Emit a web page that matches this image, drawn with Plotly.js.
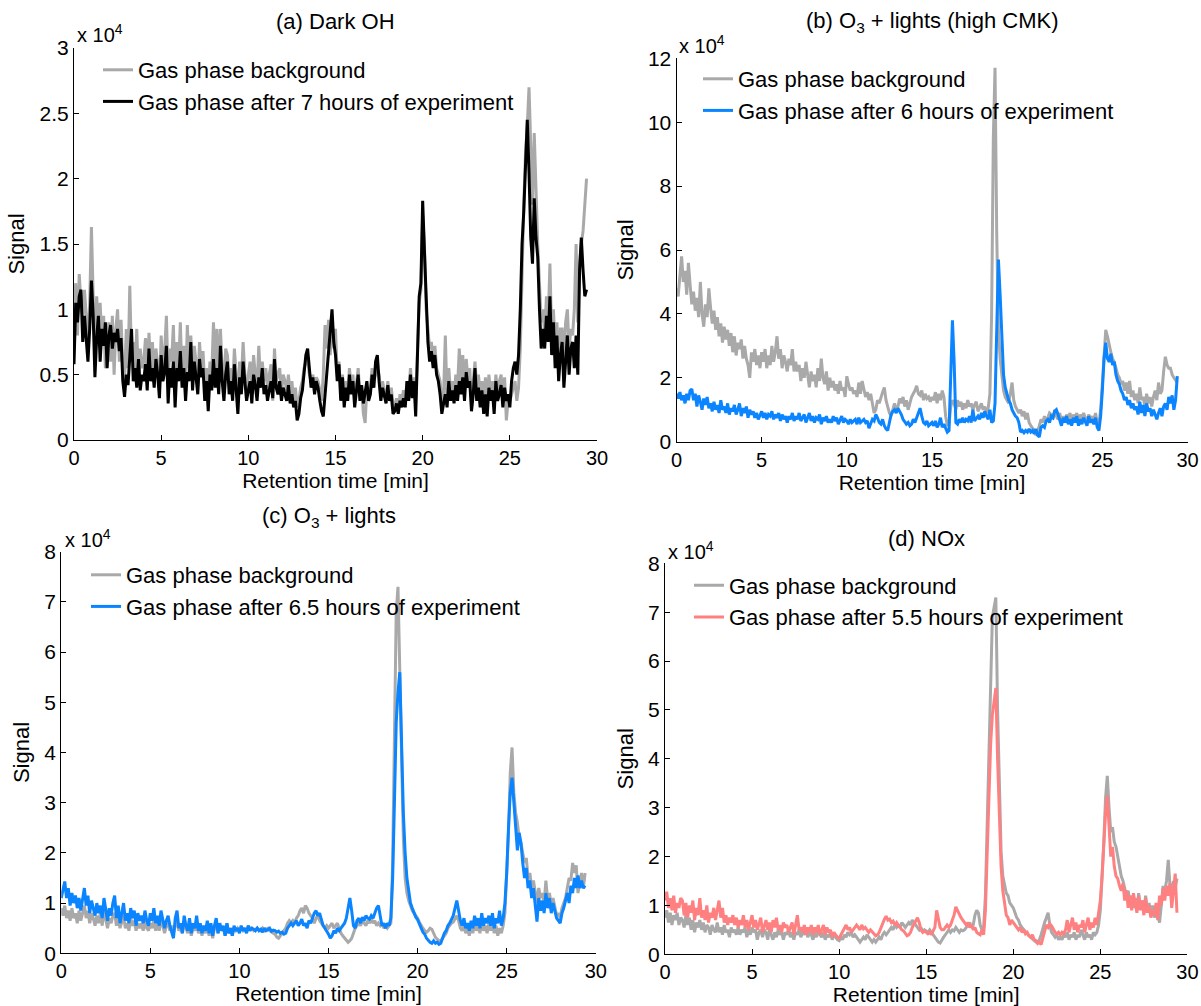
<!DOCTYPE html>
<html>
<head>
<meta charset="utf-8">
<script src="https://cdn.plot.ly/plotly-3.0.1.min.js"></script>
<style>html,body{margin:0;padding:0;background:#fff}#chart{width:1201px;height:1006px}</style>
</head>
<body>
<div id="chart"></div>
<script>
// Retention time grid: first sample and spacing [min]
const TIME_START = 0;
const TIME_STEP = 0.1;

// Signal values in units of 10^4
// (a) Dark OH
const darkBackground = [
1.0,1.2,0.8,1.27,1.05,0.95,1.15,0.9,0.75,1.05,
1.63,1.1,0.7,1.1,0.85,1.05,0.75,0.95,0.55,0.8,
0.9,0.6,0.95,0.5,0.85,1.0,0.6,0.92,0.55,0.45,
0.85,0.55,1.18,0.6,0.75,0.5,0.85,0.45,0.7,0.55,
0.6,0.78,0.5,0.82,0.55,0.75,0.45,0.7,0.58,0.4,
0.8,0.55,0.68,0.95,0.45,0.7,0.6,0.88,0.4,0.75,
0.55,0.9,0.45,0.72,0.35,0.88,0.55,0.8,0.5,0.72,
0.6,0.4,0.75,0.55,0.68,0.42,0.55,0.35,0.6,0.5,
0.9,0.55,0.85,0.45,0.85,0.55,0.38,0.7,0.65,0.45,
0.55,0.4,0.7,0.5,0.3,0.6,0.45,0.75,0.5,0.4,
0.5,0.6,0.35,0.65,0.5,0.4,0.72,0.45,0.6,0.45,
0.55,0.4,0.5,0.58,0.3,0.7,0.45,0.5,0.55,0.35,
0.5,0.45,0.38,0.5,0.35,0.45,0.3,0.4,0.25,0.3,
0.4,0.45,0.55,0.6,0.62,0.5,0.45,0.5,0.4,0.48,
0.45,0.38,0.3,0.5,0.88,0.7,0.92,0.65,0.95,0.7,
0.85,0.5,0.6,0.35,0.5,0.3,0.45,0.35,0.55,0.4,
0.5,0.3,0.45,0.55,0.35,0.4,0.2,0.13,0.4,0.35,
0.4,0.55,0.45,0.5,0.55,0.5,0.35,0.45,0.38,0.3,
0.45,0.35,0.4,0.28,0.25,0.32,0.22,0.35,0.3,0.38,
0.3,0.45,0.35,0.55,0.38,0.48,0.3,0.65,1.05,1.15,
1.72,1.5,1.0,0.85,0.7,0.75,0.6,0.72,0.55,0.5,
0.45,0.28,0.35,0.8,0.3,0.55,0.35,0.45,0.32,0.5,
0.4,0.7,0.45,0.65,0.4,0.62,0.45,0.55,0.3,0.45,
0.6,0.4,0.5,0.35,0.45,0.28,0.48,0.3,0.5,0.35,
0.45,0.3,0.5,0.35,0.45,0.5,0.3,0.48,0.15,0.3,
0.3,0.35,0.4,0.45,0.3,0.4,0.7,1.3,1.8,2.2,
2.4,2.7,2.3,1.8,2.35,1.9,1.5,1.2,0.9,1.0,
0.8,1.1,0.9,1.35,0.8,1.0,0.7,0.9,0.55,0.85,
0.85,0.6,0.9,1.0,0.7,0.85,0.8,1.0,1.5,0.9,
1.35,1.5,1.6,1.8,2.0];
const darkAfter7h = [
0.58,1.05,0.9,1.1,1.15,0.75,0.95,0.78,0.6,0.85,
1.22,0.95,0.48,0.78,0.95,0.6,0.85,0.72,0.9,0.55,
0.8,0.88,0.7,0.82,0.75,0.85,0.68,0.78,0.45,0.33,
0.5,0.42,0.6,0.85,0.45,0.55,0.4,0.62,0.38,0.5,
0.45,0.58,0.38,0.7,0.45,0.55,0.4,0.62,0.5,0.32,
0.65,0.45,0.52,0.72,0.28,0.55,0.4,0.6,0.25,0.55,
0.45,0.68,0.4,0.55,0.3,0.52,0.45,0.75,0.38,0.6,
0.48,0.35,0.62,0.48,0.55,0.3,0.45,0.22,0.5,0.38,
0.62,0.4,0.55,0.35,0.72,0.45,0.3,0.5,0.6,0.35,
0.45,0.3,0.58,0.4,0.2,0.48,0.35,0.6,0.42,0.3,
0.38,0.45,0.28,0.5,0.42,0.3,0.48,0.4,0.55,0.35,
0.42,0.3,0.38,0.45,0.32,0.62,0.4,0.35,0.45,0.3,
0.4,0.35,0.3,0.42,0.28,0.35,0.25,0.3,0.15,0.2,
0.32,0.38,0.5,0.65,0.7,0.55,0.4,0.48,0.35,0.45,
0.4,0.3,0.22,0.18,0.35,0.55,0.68,0.85,1.0,0.75,
0.65,0.45,0.58,0.3,0.48,0.25,0.4,0.3,0.5,0.35,
0.45,0.25,0.38,0.5,0.3,0.42,0.28,0.35,0.45,0.3,
0.35,0.5,0.4,0.6,0.65,0.45,0.3,0.4,0.35,0.28,
0.42,0.3,0.35,0.2,0.22,0.28,0.2,0.3,0.25,0.32,
0.25,0.45,0.3,0.5,0.32,0.45,0.18,0.6,1.1,1.2,
1.83,1.45,1.05,0.75,0.6,0.68,0.55,0.65,0.5,0.45,
0.35,0.2,0.28,0.35,0.25,0.45,0.3,0.38,0.28,0.42,
0.3,0.45,0.35,0.48,0.3,0.52,0.4,0.45,0.22,0.35,
0.55,0.3,0.4,0.25,0.38,0.2,0.35,0.18,0.4,0.3,
0.38,0.2,0.45,0.3,0.35,0.42,0.25,0.4,0.3,0.35,
0.25,0.45,0.55,0.6,0.5,0.65,1.0,1.5,1.75,2.1,
2.45,2.05,1.55,1.35,1.85,1.55,1.4,1.0,0.7,0.85,
0.7,0.95,0.75,1.1,0.65,0.9,0.55,0.8,0.45,0.65,
0.75,0.4,0.6,0.8,0.5,0.7,0.75,0.55,0.8,0.5,
1.3,1.55,1.3,1.1,1.15];

// (b) O3 + lights (high CMK)
const highCmkBackground = [
4.8,4.55,5.2,5.8,5.0,5.35,4.6,5.6,4.9,4.3,
4.7,4.1,4.5,3.9,5.0,4.0,3.6,4.3,3.9,4.8,
4.2,3.7,4.1,3.5,3.9,3.3,3.7,3.1,3.6,3.2,
3.5,3.0,3.4,2.8,3.3,2.7,3.1,2.9,3.2,2.6,
3.0,2.6,2.4,2.0,2.8,2.5,2.9,2.4,2.7,2.3,
2.8,2.5,2.9,2.3,2.7,2.4,3.0,2.5,2.8,3.3,
2.6,2.9,2.3,2.7,2.5,2.2,2.6,2.4,2.9,2.2,
2.5,2.2,2.4,1.9,2.3,2.0,2.5,2.1,1.7,2.2,
1.9,2.1,1.7,2.3,1.9,2.6,2.0,1.8,2.2,1.6,
2.0,1.7,1.9,1.6,1.8,1.5,1.9,1.6,1.7,1.4,
2.05,1.8,1.6,1.7,1.5,1.6,1.4,1.85,1.5,1.9,
1.6,1.4,1.55,1.3,1.5,1.2,0.9,1.0,1.3,1.2,
1.4,1.55,1.7,1.3,1.1,0.9,0.8,1.0,1.2,0.95,
1.1,1.35,1.2,1.4,1.1,1.3,1.0,1.2,1.4,1.5,
1.6,1.75,1.5,1.45,1.6,1.3,1.5,1.35,1.4,1.25,
1.4,1.3,1.55,1.2,1.5,1.3,1.6,1.4,0.8,0.5,
0.55,1.1,1.3,1.2,1.0,1.3,1.1,1.25,1.0,1.2,
1.05,1.3,1.1,1.2,1.0,1.15,1.25,0.95,1.1,1.2,
1.0,1.1,0.9,1.05,1.5,4.0,9.5,11.7,6.5,3.5,
2.6,2.0,1.6,1.4,1.3,1.2,1.5,1.85,1.3,1.1,
1.0,0.9,1.0,0.8,0.95,0.7,0.9,0.6,0.5,0.4,
0.35,0.2,0.3,0.5,0.7,0.6,0.8,0.65,0.75,0.9,
0.85,0.7,1.0,0.8,0.7,0.9,0.6,0.8,0.65,0.85,
0.7,0.9,0.65,0.85,0.7,0.9,0.6,0.85,0.7,0.9,
0.75,0.6,0.85,0.7,0.8,0.65,0.9,0.6,0.55,1.0,
1.8,2.7,3.5,3.3,3.0,2.8,2.6,2.5,2.3,2.1,
2.0,1.8,1.9,1.6,1.85,1.5,1.9,1.4,1.6,1.3,
1.5,1.2,1.7,1.3,1.4,1.1,1.5,1.2,1.4,1.1,
1.4,1.6,1.3,1.85,1.5,1.6,2.2,2.66,2.4,2.3,
2.3,2.1,2.0,1.9,1.85];
const highCmkAfter6h = [
1.5,1.35,1.55,1.3,1.45,1.2,1.5,1.3,1.6,1.65,
1.3,1.5,1.1,1.45,1.25,1.0,1.35,1.15,1.4,1.05,
1.2,0.95,1.25,1.0,1.15,0.9,1.3,1.0,1.1,0.9,
1.2,0.85,1.05,0.95,1.15,0.85,1.0,1.2,0.8,1.05,
0.9,1.1,0.75,1.0,0.85,0.95,0.75,0.9,0.7,0.85,
0.95,0.75,0.9,0.7,0.85,0.8,0.95,0.7,0.85,0.75,
0.9,0.65,0.85,0.7,0.8,0.6,0.8,0.7,0.9,0.65,
0.8,0.7,0.9,0.65,0.75,0.85,0.6,0.75,0.9,0.65,
0.8,0.6,0.75,0.7,0.85,0.55,0.75,0.65,0.8,0.6,
0.7,0.6,0.8,0.65,0.75,0.55,0.7,0.8,0.6,0.7,
0.65,0.55,0.7,0.6,0.65,0.7,0.55,0.75,0.6,0.65,
0.7,0.6,0.65,0.42,0.55,0.7,0.65,0.85,0.75,0.6,
0.55,0.7,0.5,0.4,0.35,0.6,0.85,0.95,1.0,0.9,
1.05,0.95,0.85,0.7,0.6,0.55,0.6,0.5,0.55,0.7,
0.6,0.75,0.95,1.05,0.8,0.6,0.55,0.65,0.5,0.55,
0.6,0.5,0.65,0.45,0.55,0.75,0.45,0.55,0.4,0.3,
0.35,2.2,3.8,2.5,0.6,0.55,0.7,0.6,0.75,0.6,
0.7,0.65,0.8,0.6,1.0,0.65,0.75,0.8,0.7,0.9,
0.75,0.95,0.8,0.7,1.0,0.6,0.65,1.2,3.5,5.7,
4.6,3.0,2.1,1.7,1.5,1.3,1.2,1.0,0.9,0.8,
0.75,0.6,0.3,0.35,0.28,0.35,0.3,0.4,0.3,0.35,
0.25,0.4,0.2,0.15,0.45,0.5,0.45,0.65,0.7,0.6,
0.8,0.75,0.95,1.0,0.85,0.7,0.5,0.75,0.6,0.8,
0.55,0.7,0.5,0.75,0.6,0.8,0.5,0.7,0.55,0.75,
0.6,0.5,0.8,0.6,0.7,0.55,0.75,0.45,0.35,0.8,
1.6,2.6,3.1,2.6,2.5,2.75,2.4,2.5,2.1,1.9,
1.8,1.6,1.5,1.3,1.4,1.15,1.3,1.05,1.2,1.0,
1.1,0.85,1.25,0.9,1.15,0.8,1.2,0.95,1.05,0.8,
1.0,0.85,0.7,0.9,1.05,0.8,1.1,1.2,1.0,1.4,
1.2,1.45,1.0,1.3,2.05];

// (c) O3 + lights
const o3Background = [
0.9,0.75,0.95,0.7,0.85,0.65,0.9,0.7,0.8,0.6,
0.85,0.65,0.8,0.95,0.7,0.85,0.6,0.8,0.7,0.55,
0.75,0.6,0.8,0.55,0.85,0.65,0.5,0.7,0.6,0.75,
0.8,0.55,0.7,0.5,0.65,0.75,0.5,0.6,0.45,0.7,
0.55,0.65,0.45,0.6,0.5,0.6,0.45,0.65,0.5,0.45,
0.6,0.5,0.65,0.45,0.6,0.45,0.65,0.55,0.4,0.55,
0.6,0.45,0.55,0.4,0.55,0.65,0.45,0.5,0.4,0.6,
0.5,0.4,0.55,0.35,0.5,0.45,0.6,0.4,0.5,0.35,
0.5,0.4,0.55,0.35,0.5,0.3,0.5,0.6,0.4,0.55,
0.45,0.5,0.35,0.6,0.4,0.5,0.35,0.5,0.45,0.5,
0.45,0.5,0.45,0.5,0.42,0.55,0.48,0.5,0.45,0.48,
0.5,0.47,0.45,0.5,0.45,0.48,0.5,0.45,0.42,0.4,
0.38,0.32,0.3,0.35,0.4,0.45,0.5,0.6,0.65,0.6,
0.65,0.6,0.7,0.75,0.85,0.9,0.8,0.95,0.9,0.8,
0.75,0.7,0.6,0.7,0.75,0.65,0.6,0.55,0.5,0.55,
0.5,0.55,0.6,0.5,0.55,0.6,0.5,0.4,0.35,0.3,
0.25,0.22,0.25,0.3,0.4,0.5,0.55,0.6,0.55,0.65,
0.6,0.55,0.65,0.6,0.7,0.6,0.65,0.55,0.6,0.55,
0.6,0.5,0.55,0.5,0.55,0.6,1.8,4.2,6.8,7.3,
5.5,3.5,2.3,1.5,1.2,1.05,0.95,0.85,0.8,0.75,
0.7,0.62,0.55,0.5,0.45,0.42,0.45,0.5,0.48,0.4,
0.32,0.28,0.25,0.25,0.3,0.35,0.4,0.5,0.55,0.6,
0.62,0.7,0.75,0.65,0.5,0.45,0.55,0.4,0.5,0.35,
0.55,0.4,0.6,0.45,0.55,0.4,0.65,0.45,0.55,0.4,
0.6,0.45,0.6,0.4,0.55,0.35,0.5,0.4,0.55,0.8,
1.5,2.4,3.6,4.1,3.2,2.8,2.6,2.3,2.2,2.0,
1.8,1.9,1.5,1.6,1.3,1.45,1.2,1.0,1.3,1.1,
1.2,1.0,1.45,1.05,1.2,0.95,1.1,0.9,0.75,0.8,
0.7,0.9,1.0,1.1,1.3,1.5,1.45,1.8,1.6,1.75,
1.2,1.4,1.6,1.3,1.6];
const o3After6p5h = [
1.1,1.25,1.43,1.1,1.3,0.95,1.2,1.0,1.15,0.9,
1.1,0.85,1.05,1.3,0.95,1.15,0.8,1.05,0.9,0.75,
1.0,0.8,0.95,0.7,1.1,0.85,0.65,0.9,0.75,1.0,
1.15,0.7,0.95,0.6,0.85,1.0,0.65,0.8,0.6,0.9,
0.7,0.85,0.55,0.8,0.65,0.75,0.6,0.85,0.65,0.55,
0.8,0.65,0.9,0.6,0.75,0.55,0.85,0.7,0.5,0.65,
0.75,0.55,0.4,0.3,0.7,0.85,0.5,0.6,0.4,0.75,
0.55,0.45,0.7,0.4,0.6,0.5,0.75,0.45,0.6,0.4,
0.55,0.45,0.65,0.4,0.6,0.35,0.55,0.7,0.4,0.6,
0.45,0.55,0.35,0.6,0.4,0.5,0.35,0.55,0.45,0.5,
0.4,0.55,0.45,0.5,0.4,0.55,0.45,0.5,0.48,0.45,
0.5,0.45,0.48,0.42,0.5,0.45,0.47,0.5,0.44,0.46,
0.45,0.42,0.44,0.4,0.42,0.38,0.4,0.5,0.55,0.6,
0.55,0.6,0.65,0.55,0.6,0.68,0.55,0.6,0.5,0.65,
0.6,0.7,0.8,0.85,0.75,0.8,0.65,0.55,0.5,0.45,
0.38,0.3,0.35,0.45,0.4,0.5,0.45,0.5,0.55,0.6,
0.7,0.95,1.1,0.85,0.55,0.5,0.65,0.7,0.6,0.72,
0.65,0.75,0.7,0.68,0.75,0.7,0.8,0.9,0.95,0.7,
0.55,0.6,0.5,0.6,0.55,0.7,1.5,3.0,4.6,5.2,
5.6,4.2,2.8,2.0,1.5,1.25,1.0,0.9,0.8,0.72,
0.67,0.6,0.5,0.42,0.38,0.3,0.25,0.22,0.2,0.25,
0.2,0.22,0.18,0.2,0.3,0.4,0.45,0.55,0.6,0.67,
0.75,0.9,1.05,0.85,0.65,0.55,0.7,0.5,0.6,0.45,
0.65,0.5,0.75,0.55,0.7,0.5,0.8,0.55,0.7,0.6,
0.75,0.55,0.8,0.5,0.7,0.6,0.85,0.55,0.7,1.0,
1.6,2.5,3.2,3.5,3.0,2.5,2.05,2.4,2.2,1.8,
1.5,1.7,1.3,1.45,1.1,1.3,0.95,0.63,1.1,0.85,
1.05,0.8,1.2,0.9,1.1,0.8,1.0,0.85,0.7,0.65,
0.6,0.8,0.9,1.05,1.2,1.0,1.35,1.2,1.5,1.3,
1.55,1.3,1.45,1.3,1.35];

// (d) NOx
const noxBackground = [
0.75,0.9,0.65,0.85,0.6,0.8,0.7,0.85,0.6,0.75,
0.7,0.55,0.8,0.6,0.75,0.5,0.7,0.45,0.65,0.55,
0.7,0.5,0.65,0.45,0.6,0.55,0.4,0.6,0.5,0.45,
0.65,0.45,0.55,0.4,0.6,0.45,0.5,0.35,0.55,0.45,
0.5,0.4,0.55,0.4,0.5,0.45,0.55,0.35,0.5,0.4,
0.55,0.45,0.5,0.3,0.45,0.5,0.35,0.5,0.45,0.3,
0.5,0.4,0.3,0.45,0.35,0.5,0.4,0.45,0.3,0.45,
0.4,0.5,0.35,0.45,0.3,0.45,0.4,0.5,0.35,0.45,
0.4,0.5,0.35,0.45,0.4,0.3,0.45,0.35,0.5,0.4,
0.35,0.45,0.3,0.4,0.35,0.45,0.3,0.4,0.35,0.3,
0.28,0.35,0.3,0.4,0.35,0.45,0.4,0.45,0.35,0.4,
0.35,0.3,0.25,0.3,0.35,0.3,0.4,0.35,0.3,0.25,
0.3,0.25,0.3,0.35,0.3,0.4,0.45,0.4,0.45,0.5,
0.55,0.5,0.6,0.55,0.6,0.55,0.65,0.6,0.55,0.6,
0.65,0.6,0.7,0.65,0.6,0.55,0.5,0.55,0.45,0.5,
0.48,0.45,0.5,0.45,0.4,0.35,0.3,0.25,0.23,0.3,
0.35,0.4,0.45,0.5,0.45,0.5,0.48,0.55,0.5,0.45,
0.5,0.48,0.5,0.55,0.6,0.65,0.55,0.6,0.8,0.9,
0.85,0.6,0.5,0.55,1.2,2.6,4.5,6.0,6.9,7.1,
7.3,5.0,3.2,2.1,1.6,1.4,1.25,1.2,1.05,1.0,
0.95,0.85,0.75,0.7,0.6,0.55,0.5,0.45,0.42,0.38,
0.35,0.32,0.28,0.25,0.25,0.3,0.4,0.55,0.65,0.75,
0.85,0.6,0.45,0.4,0.35,0.4,0.3,0.35,0.3,0.4,
0.35,0.45,0.3,0.4,0.35,0.45,0.3,0.4,0.35,0.5,
0.4,0.3,0.45,0.35,0.4,0.3,0.45,0.4,0.45,0.6,
0.9,1.5,2.3,3.2,3.65,3.0,2.5,2.6,2.3,2.2,
2.0,1.8,1.6,1.5,1.35,1.2,1.3,1.05,1.2,0.95,
1.15,0.9,1.25,0.95,1.1,0.85,1.2,0.9,1.05,0.8,
1.0,0.75,0.95,0.8,0.65,1.0,1.4,1.3,1.5,1.93,
1.4,1.3,1.5,1.35,1.55];
const noxAfter5p5h = [
1.1,1.28,0.95,1.15,0.9,1.2,0.85,1.05,0.95,1.15,
1.1,0.8,1.05,0.75,1.0,0.85,1.1,0.7,0.95,0.8,
1.15,0.75,0.9,0.7,1.0,0.65,0.85,0.75,0.95,0.7,
0.9,1.1,0.75,0.95,0.65,0.8,0.6,0.75,0.65,0.8,
0.6,0.75,0.55,0.7,0.6,0.8,0.55,0.7,0.5,0.65,
0.8,0.55,0.7,0.5,0.65,0.75,0.45,0.6,0.7,0.5,
0.65,0.45,0.7,0.55,0.75,0.5,0.6,0.45,0.65,0.55,
0.6,0.45,0.55,0.65,0.4,0.6,0.8,0.5,0.55,0.45,
0.6,0.4,0.55,0.45,0.6,0.4,0.55,0.45,0.6,0.4,
0.5,0.6,0.4,0.55,0.45,0.5,0.35,0.45,0.4,0.35,
0.33,0.4,0.45,0.55,0.6,0.5,0.55,0.45,0.5,0.55,
0.6,0.55,0.5,0.6,0.52,0.55,0.5,0.45,0.5,0.45,
0.42,0.38,0.4,0.45,0.55,0.65,0.72,0.78,0.7,0.72,
0.65,0.68,0.6,0.65,0.58,0.55,0.5,0.48,0.42,0.38,
0.4,0.45,0.55,0.62,0.7,0.75,0.65,0.5,0.45,0.48,
0.45,0.42,0.45,0.4,0.48,0.55,0.9,0.75,0.55,0.5,
0.5,0.55,0.6,0.55,0.6,0.7,0.8,0.97,0.9,0.8,
0.75,0.7,0.65,0.6,0.65,0.55,0.6,0.5,0.55,0.45,
0.42,0.4,0.5,0.4,0.9,2.0,3.3,4.3,4.9,5.2,
5.45,4.0,2.6,1.8,1.3,1.0,0.8,0.75,0.6,0.7,
0.65,0.6,0.55,0.5,0.55,0.45,0.5,0.42,0.45,0.38,
0.35,0.4,0.3,0.28,0.22,0.25,0.2,0.35,0.5,0.6,
0.55,0.62,0.58,0.5,0.45,0.42,0.45,0.4,0.45,0.42,
0.5,0.7,0.45,0.6,0.75,0.5,0.65,0.45,0.6,0.55,
0.7,0.45,0.6,0.75,0.5,0.65,0.55,0.75,0.6,0.85,
1.1,1.6,2.4,2.9,3.25,2.6,2.0,2.2,1.8,1.6,
1.55,1.4,1.3,1.45,1.1,1.3,0.95,1.2,0.9,1.25,
1.05,0.85,1.2,0.9,1.1,0.8,1.15,0.85,1.0,0.75,
0.9,0.8,1.05,0.7,1.2,1.0,1.35,1.1,1.4,1.2,
1.45,0.95,1.3,1.65,0.85];

// Text
const panelTitles = ['(a) Dark OH', '(b) O<sub>3</sub> + lights (high CMK)', '(c) O<sub>3</sub> + lights', '(d) NOx'];
const backgroundLabel = 'Gas phase background';
const afterLabels = ['Gas phase after 7 hours of experiment', 'Gas phase after 6 hours of experiment',
                     'Gas phase after 6.5 hours of experiment', 'Gas phase after 5.5 hours of experiment'];
const xTitle = 'Retention time [min]';
const yTitle = 'Signal';
const yMax = [3, 12, 8, 8];
const yStep = [0.5, 2, 1, 1];
const xMax = 30;
const xStep = 5;

// ---------- layout (pixel geometry of each panel) ----------
const W = 1201, H = 1006;
const panels = [
  {l: 74,    r: 597,    t: 48,    b: 440,   leg: [98, 49],    title: [335.5, 22], mult: [75, 33]},
  {l: 676.5, r: 1187.5, t: 58.3,  b: 441.7, leg: [698, 58],   title: [932, 22],   mult: [677, 45]},
  {l: 61.2,  r: 595.8,  t: 551.7, b: 953.3, leg: [86, 554],   title: [328.5, 517], mult: [63, 538]},
  {l: 665,   r: 1187.4, t: 563.3, b: 954.3, leg: [689, 564.5], title: [926, 538],  mult: [666, 550]}
];
const afterColors = ['#000000', '#0a84ff', '#0a84ff', '#ff8080'];
const grayColor = '#a9a9a9';
const FONT = 'Liberation Sans, Arial, Helvetica, sans-serif';
const FS = 22;
const XFS = 20;
const LW = 3;

const bgSeries = [darkBackground, highCmkBackground, o3Background, noxBackground];
const afSeries = [darkAfter7h, highCmkAfter6h, o3After6p5h, noxAfter5p5h];

const px = v => v / W, py = v => 1 - v / H;
const traces = [];
const layout = {
  width: W, height: H,
  margin: {l: 0, r: 0, t: 0, b: 0},
  paper_bgcolor: '#fff', plot_bgcolor: '#fff',
  font: {family: FONT, size: FS, color: '#000'},
  showlegend: true,
  annotations: []
};

panels.forEach((p, i) => {
  const n = i === 0 ? '' : String(i + 1);
  const legName = 'legend' + n;
  traces.push({
    type: 'scatter', mode: 'lines', name: backgroundLabel,
    x0: TIME_START, dx: TIME_STEP, y: bgSeries[i],
    xaxis: 'x' + n, yaxis: 'y' + n, legend: legName,
    line: {color: grayColor, width: LW}
  });
  traces.push({
    type: 'scatter', mode: 'lines', name: afterLabels[i],
    x0: TIME_START, dx: TIME_STEP, y: afSeries[i],
    xaxis: 'x' + n, yaxis: 'y' + n, legend: legName,
    line: {color: afterColors[i], width: LW}
  });
  layout['xaxis' + n] = {
    domain: [px(p.l), px(p.r)], anchor: 'y' + n,
    range: [0, xMax], dtick: xStep, tick0: 0,
    showgrid: false, zeroline: false, showline: true, linecolor: '#000', linewidth: 1,
    ticks: 'inside', ticklen: 5, tickcolor: '#000',
    tickfont: {size: XFS}, fixedrange: true,
    title: {text: xTitle, font: {size: 21}, standoff: 0}
  };
  layout['yaxis' + n] = {
    domain: [py(p.b), py(p.t)], anchor: 'x' + n,
    range: [0, yMax[i]], dtick: yStep[i], tick0: 0,
    showgrid: false, zeroline: false, showline: true, linecolor: '#000', linewidth: 1,
    ticks: 'inside', ticklen: 5, tickcolor: '#000',
    tickfont: {size: 21}, fixedrange: true,
    title: {text: yTitle, font: {size: FS}, standoff: 8}
  };
  layout[legName] = {
    x: px(p.leg[0]), y: py(p.leg[1]), xanchor: 'left', yanchor: 'top',
    bgcolor: 'rgba(0,0,0,0)', borderwidth: 0,
    font: {size: FS}, tracegroupgap: 0
  };
  layout.annotations.push({
    xref: 'paper', yref: 'paper', x: px(p.title[0]), y: py(p.title[1]),
    xanchor: 'center', yanchor: 'middle', showarrow: false,
    text: panelTitles[i], font: {size: FS}
  });
  layout.annotations.push({
    xref: 'paper', yref: 'paper', x: px(p.mult[0]), y: py(p.mult[1]),
    xanchor: 'left', yanchor: 'middle', showarrow: false,
    text: 'x 10<sup>4</sup>', font: {size: 20}
  });
});

Plotly.newPlot('chart', traces, layout, {displayModeBar: false, staticPlot: true});
</script>
</body>
</html>
